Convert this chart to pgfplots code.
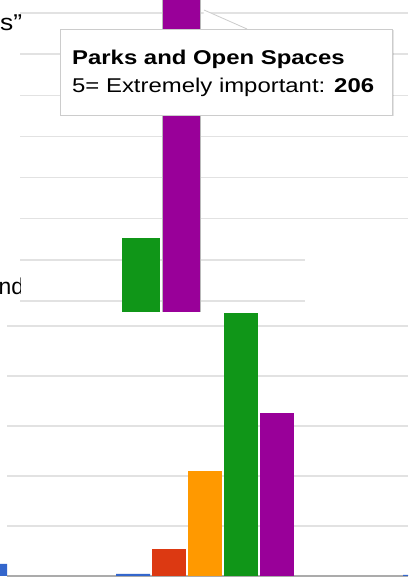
\documentclass[border=0pt]{standalone}
\usepackage{graphicx}
\usepackage{pgfplots}
\pgfplotsset{compat=1.18}
\usepackage{fontspec}
\setmainfont{Liberation Sans}

\definecolor{gblue}{HTML}{3366CC}
\definecolor{gred}{HTML}{DC3912}
\definecolor{gorange}{HTML}{FF9900}
\definecolor{ggreen}{HTML}{109618}
\definecolor{gpurple}{HTML}{990099}
\definecolor{gridc}{HTML}{E2E2E2}
\definecolor{basec}{HTML}{ABABAB}
\definecolor{tipborder}{HTML}{CCCCCC}

\pgfplotsset{
  panel/.style={scale only axis, axis lines=none, xmin=0, xmax=408,
    xtick=\empty, ytick=\empty, clip=true},
  gbar/.style={ybar, bar shift=0pt, draw=none},
}

\begin{document}
\begin{tikzpicture}[x=1bp,y=1bp]
\fill[white] (0,0) rectangle (408,577);

% lower chart: one group of five answers
\begin{axis}[panel, at={(0bp,0bp)}, anchor=south west,
  width=408bp, height=266bp, ymin=-1, ymax=265]
  \pgfplotsinvokeforeach{50,100,150,200,250}{
    \draw[gridc, line width=1.5bp] (axis cs:7,#1) -- (axis cs:408,#1);}
  \draw[basec, line width=1.5bp] (axis cs:7,0) -- (axis cs:408,0);
  \addplot[gbar, bar width=34, fill=gblue]   coordinates {(-10,12) (133,2) (420,1)};
  \addplot[gbar, bar width=34, fill=gred]    coordinates {(169,27)};
  \addplot[gbar, bar width=34, fill=gorange] coordinates {(205,105)};
  \addplot[gbar, bar width=34, fill=ggreen]  coordinates {(241,263)};
  \addplot[gbar, bar width=34, fill=gpurple] coordinates {(277,163)};
\end{axis}

% upper chart: Parks and Open Spaces
\begin{axis}[panel, at={(0bp,265bp)}, anchor=south west,
  width=408bp, height=312bp, ymin=14.6, ymax=166.4,
  axis background/.style={fill=white}]
  \pgfplotsinvokeforeach{20,40}{
    \draw[gridc, line width=1.5bp] (axis cs:20,#1) -- (axis cs:305,#1);}
  \pgfplotsinvokeforeach{60,80,100,120,140,160}{
    \draw[gridc, line width=1.5bp] (axis cs:20,#1) -- (axis cs:408,#1);}
  \addplot[gbar, bar width=38, fill=ggreen] coordinates {(141,50.6)};
  \addplot[ybar, bar shift=0pt, bar width=38, fill=gpurple,
    draw=gray!55, line width=0.8bp] coordinates {(181,206)};
\end{axis}

% words of the surrounding page, cut by the chart panel
\begin{scope}
  \clip (0,0) rectangle (20,577);
  \node[anchor=base west, inner sep=0pt] at (-14.4,282)
    {\fontsize{23}{26}\selectfont and};
\end{scope}
\node[anchor=base west, inner sep=0pt] at (0,546)
  {\scalebox{1.15}[1]{\fontsize{23}{26}\selectfont s\char"201D}};

% tooltip
\fill[black, opacity=0.10] (61.5,460.5) rectangle (394,546.5);
\filldraw[fill=white, draw=tipborder, line width=0.8bp] (60,462) rectangle (392,548);
\fill[white] (202,548.6) -- (204,567) -- (247,548.6) -- cycle;
\draw[tipborder, line width=0.8bp] (204,567) -- (247,548);
\node[anchor=base west, inner sep=0pt] at (72,512)
  {\scalebox{1.2}[1]{\fontsize{20}{24}\selectfont\bfseries Parks and Open Spaces}};
\node[anchor=base west, inner sep=0pt] at (72,484)
  {\scalebox{1.2}[1]{\fontsize{20}{24}\selectfont 5= Extremely important: \textbf{206}}};

\pgfresetboundingbox
\useasboundingbox (0,0) rectangle (408,577);
\end{tikzpicture}
\end{document}
